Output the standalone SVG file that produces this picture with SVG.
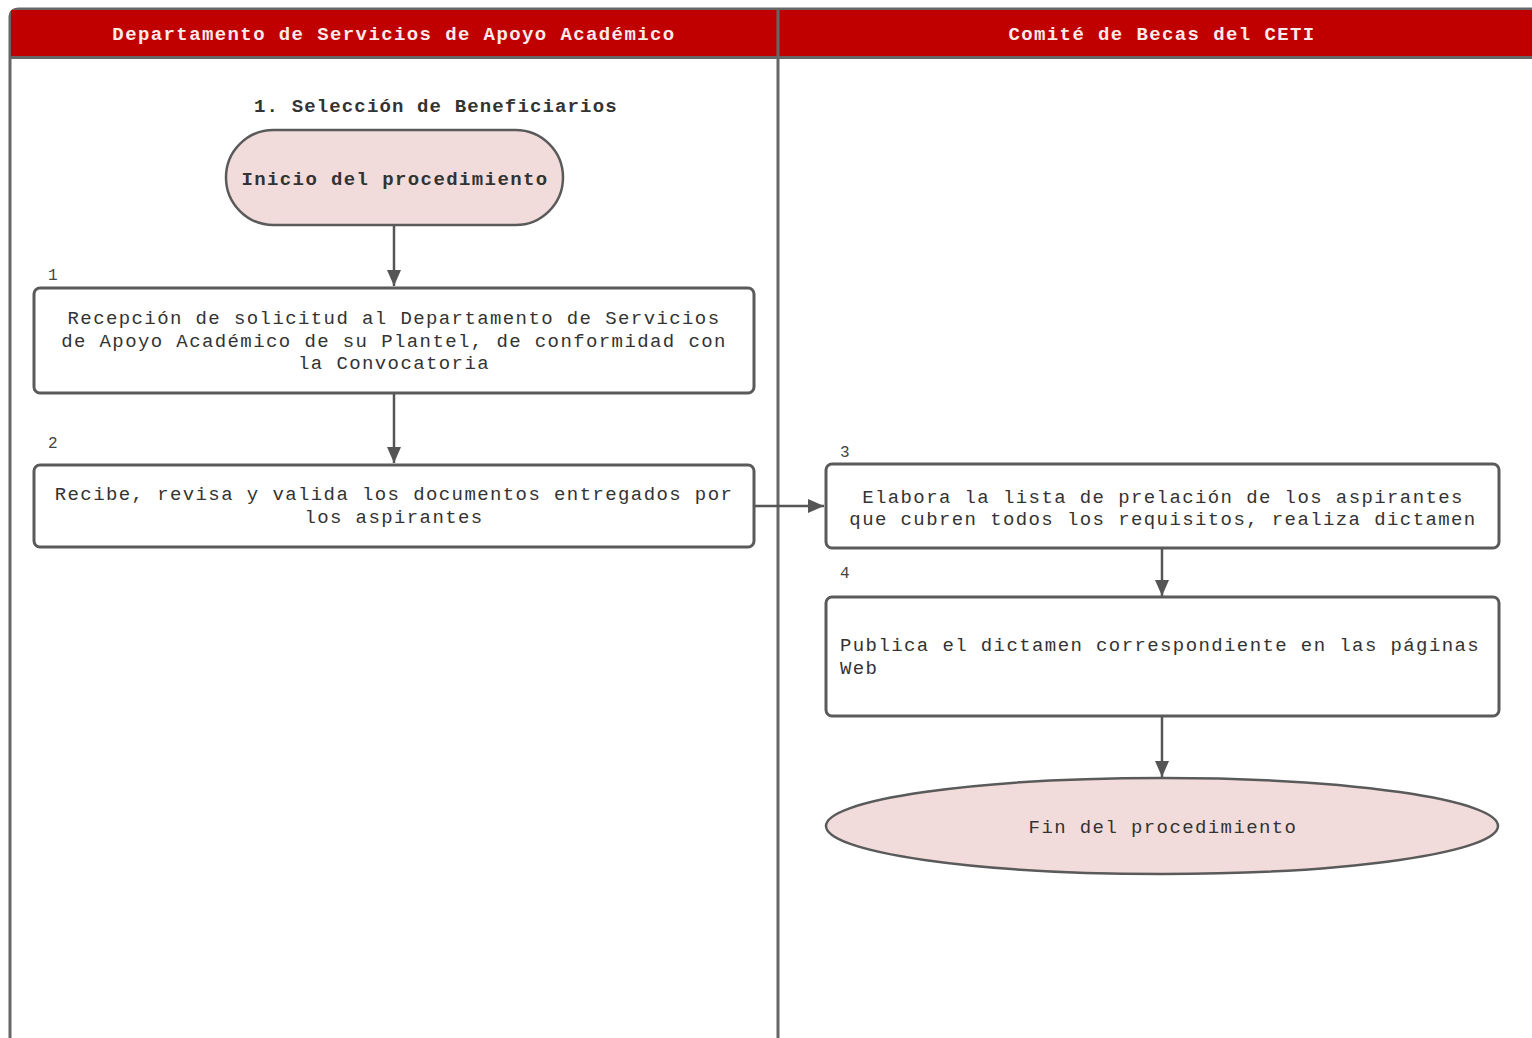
<svg xmlns="http://www.w3.org/2000/svg" width="1532" height="1038" viewBox="0 0 1532 1038">
<defs>
<marker id="ah" viewBox="0 0 16 22" refX="16" refY="11" markerWidth="16" markerHeight="22" markerUnits="userSpaceOnUse" orient="auto">
<path d="M0,4 L16,11 L0,18 Z" fill="#555"/>
</marker>
<style>
.t{font-family:"Liberation Mono",monospace;font-size:19px;letter-spacing:1.4px;fill:#333}
.b{font-weight:bold}
.h{font-family:"Liberation Mono",monospace;font-size:19px;letter-spacing:1.4px;font-weight:bold;fill:#fbeaea}
.n{font-family:"Liberation Mono",monospace;font-size:16px;fill:#444}
.box{fill:#fff;stroke:#5a5a5a;stroke-width:3}
.term{fill:#f2dcdb;stroke:#5a5a5a;stroke-width:2.5}
.c{stroke:#555;stroke-width:2.5;fill:none;marker-end:url(#ah)}
</style>
</defs>
<rect width="1532" height="1038" fill="#fff"/>
<g id="lanes">
<path d="M10,1038 L10,18 Q10,9 19,9 L1532,9" fill="none" stroke="#666" stroke-width="3"/>
<rect x="11" y="10" width="1521" height="47" fill="#c00000"/>
<line x1="10" y1="57.5" x2="1532" y2="57.5" stroke="#666" stroke-width="3"/>
<line x1="778" y1="9" x2="778" y2="1038" stroke="#666" stroke-width="3"/>
<text class="h" x="394" y="40" text-anchor="middle">Departamento de Servicios de Apoyo Académico</text>
<text class="h" x="1162" y="40" text-anchor="middle">Comité de Becas del CETI</text>
<text class="t b" x="254" y="112" textLength="364" lengthAdjust="spacing">1. Selección de Beneficiarios</text>
</g>
<g id="connectors">
<line class="c" x1="394" y1="225" x2="394" y2="286"/>
<line class="c" x1="394" y1="394" x2="394" y2="463"/>
<line class="c" x1="755" y1="506" x2="824" y2="506"/>
<line class="c" x1="1162" y1="549" x2="1162" y2="596"/>
<line class="c" x1="1162" y1="716" x2="1162" y2="777"/>
</g>
<g id="start">
<rect class="term" x="226" y="130" width="337" height="95" rx="47.5"/>
<text class="t b" x="395" y="185" text-anchor="middle">Inicio del procedimiento</text>
</g>
<g id="step1">
<text class="n" x="48" y="280">1</text>
<rect class="box" x="34" y="288" width="720" height="105" rx="6"/>
<text class="t" x="394" y="324" text-anchor="middle">Recepción de solicitud al Departamento de Servicios</text>
<text class="t" x="394" y="347" text-anchor="middle">de Apoyo Académico de su Plantel, de conformidad con</text>
<text class="t" x="394" y="369" text-anchor="middle">la Convocatoria</text>
</g>
<g id="step2">
<text class="n" x="48" y="448">2</text>
<rect class="box" x="34" y="465" width="720" height="82" rx="6"/>
<text class="t" x="394" y="500" text-anchor="middle">Recibe, revisa y valida los documentos entregados por</text>
<text class="t" x="394" y="523" text-anchor="middle">los aspirantes</text>
</g>
<g id="step3">
<text class="n" x="840" y="457">3</text>
<rect class="box" x="826" y="464" width="673" height="84" rx="6"/>
<text class="t" x="1163" y="503" text-anchor="middle">Elabora la lista de prelación de los aspirantes</text>
<text class="t" x="1163" y="525" text-anchor="middle">que cubren todos los requisitos, realiza dictamen</text>
</g>
<g id="step4">
<text class="n" x="840" y="578">4</text>
<rect class="box" x="826" y="597" width="673" height="119" rx="6"/>
<text class="t" x="840" y="651">Publica el dictamen correspondiente en las páginas</text>
<text class="t" x="840" y="674">Web</text>
</g>
<g id="end">
<ellipse class="term" cx="1162" cy="826" rx="336" ry="48"/>
<text class="t" x="1163" y="833" text-anchor="middle">Fin del procedimiento</text>
</g>
</svg>
